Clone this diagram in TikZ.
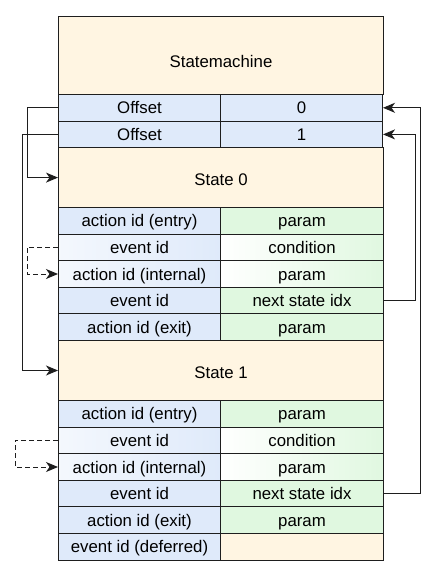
\documentclass[tikz,border=0pt]{standalone}
\usepackage{fontspec}
\setmainfont{Liberation Sans}
\usetikzlibrary{positioning,calc,arrows.meta}
\definecolor{smCreamFill}{HTML}{FFF5E2}
\definecolor{smBlueFill}{HTML}{DFEAFA}
\definecolor{smGreenFill}{HTML}{E0F8E0}
\definecolor{smLine}{HTML}{1E1E1E}

\tikzset{
  cell/.style={draw=smLine, line width=1pt, inner sep=0pt, anchor=north west,
    minimum height=26.6pt, text height=12pt, text depth=0pt,
    font=\fontsize{16.8}{19}\selectfont},
  headbox/.style={fill=smCreamFill, minimum width=325pt, text height=15pt},
  keyplain/.style={fill=smBlueFill, minimum width=162pt},
  keyfade/.style={left color=smBlueFill!35!white, right color=smBlueFill, minimum width=162pt},
  valplain/.style={fill=smGreenFill, minimum width=163pt},
  valfade/.style={left color=white, right color=smGreenFill, minimum width=163pt},
  valempty/.style={fill=smCreamFill, minimum width=163pt},
  link/.style={draw=smLine, line width=1pt, -{Stealth[length=12pt,width=10pt,inset=3.5pt]}},
  loopback/.style={link, dash pattern=on 5pt off 3pt}
}

\begin{document}
\begin{tikzpicture}[x=1pt, y=-1pt]
\useasboundingbox (0,0) rectangle (435,575);

\def\xL{58}
\def\xM{220}
\def\rowH{26.6}
\def\yRowsA{207}
\def\yRowsB{400}

% --- STATEMACHINE HEADER + OFFSETS ---
\node[cell, headbox, minimum height=78pt, text height=24pt]
  (sm) at (\xL, 16) {Statemachine};
\node[cell, keyplain] (off0L) at (\xL, 94) {Offset};
\node[cell, keyplain] (off0R) at (\xM, 94) {0};
\node[cell, keyplain] (off1L) at (\xL, 94 + \rowH) {Offset};
\node[cell, keyplain] (off1R) at (\xM, 94 + \rowH) {1};

% --- STATE 0 ---
\node[cell, headbox, minimum height=59.8pt] (s0) at (\xL, 147.2) {State 0};
\foreach \i/\lab/\val/\fl in {1/action id (entry)/param/plain,
    2/event id/condition/fade, 3/action id (internal)/param/fade,
    4/event id/next state idx/plain, 5/action id (exit)/param/plain} {
  \pgfmathsetmacro\yRow{\yRowsA + (\i-1)*\rowH}
  \node[cell, key\fl] (s0l\i) at (\xL, \yRow) {\lab};
  \node[cell, val\fl] (s0r\i) at (\xM, \yRow) {\val};
}

% --- STATE 1 ---
\node[cell, headbox, minimum height=60pt] (s1) at (\xL, 340) {State 1};
\foreach \i/\lab/\val/\fl/\vs in {1/action id (entry)/param/plain/plain,
    2/event id/condition/fade/fade, 3/action id (internal)/param/fade/fade,
    4/event id/next state idx/plain/plain, 5/action id (exit)/param/plain/plain,
    6/event id (deferred)//plain/empty} {
  \pgfmathsetmacro\yRow{\yRowsB + (\i-1)*\rowH}
  \node[cell, key\fl] (s1l\i) at (\xL, \yRow) {\lab};
  \node[cell, val\vs] (s1r\i) at (\xM, \yRow) {\val};
}

% --- OFFSETS -> STATES ---
\draw[link] (off0L.west) -- ++(-31,0) |- (s0.west);
\draw[link] (off1L.west) -- ++(-36,0) |- (s1.west);

% --- INTERNAL TRANSITIONS ---
\draw[loopback] (s0l2.west) -- ++(-31,0) |- (s0l3.west);
\draw[loopback] (s1l2.west) -- ++(-43,0) |- (s1l3.west);

% --- NEXT STATE -> OFFSET ---
\draw[link] (s0r4.east) -- ++(31,0) |- (off1R.east);
\draw[link] (s1r4.east) -- ++(36,0) |- (off0R.east);

\end{tikzpicture}
\end{document}
